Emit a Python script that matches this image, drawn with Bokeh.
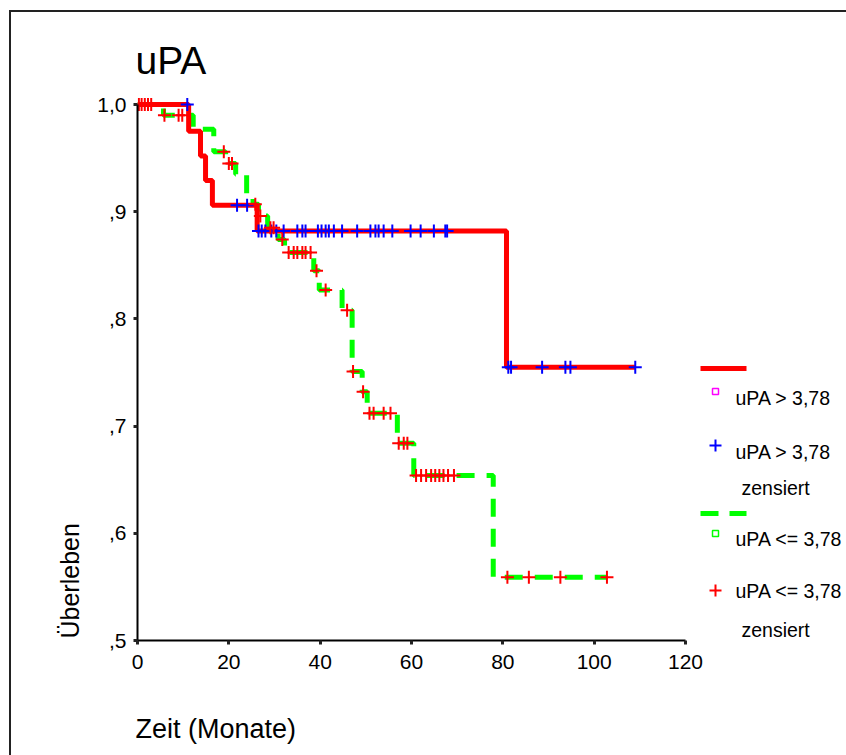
import numpy as np
from math import pi
from bokeh.plotting import figure
from bokeh.models import Label, BoxAnnotation, FixedTicker, Range1d, Title
from bokeh.embed import file_html
from bokeh.resources import INLINE

# ---------------- data ----------------
title_text = "uPA"
x_label = "Zeit (Monate)"
y_label = "Überleben"
x_ticks = [0, 20, 40, 60, 80, 100, 120]
y_ticks = [0.5, 0.6, 0.7, 0.8, 0.9, 1.0]
y_tick_labels = [",5", ",6", ",7", ",8", ",9", "1,0"]

# group uPA > 3,78 : Kaplan-Meier steps (time, survival)
hi_t = [0, 11.2, 13.8, 14.9, 16.4, 26.2, 80.8, 109.0]
hi_s = [1.0, 0.975, 0.952, 0.929, 0.906, 0.882, 0.755, 0.755]
# censored times, uPA > 3,78
hi_cens = [10.9, 21.8, 24.0,
           26.5, 27.2, 28.0, 29.3, 30.4, 32.0, 35.0, 36.1, 36.8, 39.5, 40.3,
           41.2, 41.9, 43.0, 44.8, 48.1, 51.0, 52.1, 52.8, 53.9, 55.8, 59.8,
           62.0, 64.9, 67.4, 67.8,
           81.2, 81.8, 88.6, 93.7, 94.8, 109.0]

# group uPA <= 3,78 : Kaplan-Meier steps
lo_t = [0, 5.7, 12.2, 16.7, 19.3, 21.5, 23.9, 25.3, 26.5, 28.5, 30.8, 32.2,
        38.6, 39.8, 44.8, 47.0, 49.2, 50.3, 56.9, 60.5, 77.9, 102.8]
lo_s = [1.0, 0.990, 0.977, 0.956, 0.945, 0.935, 0.917, 0.907, 0.896, 0.885,
        0.874, 0.862, 0.845, 0.827, 0.808, 0.751, 0.732, 0.712, 0.684, 0.654,
        0.559, 0.559]
# censored times, uPA <= 3,78
lo_cens = [0.3, 0.9, 1.6, 2.3, 3.0, 5.9, 9.0, 9.8, 18.9, 20.0, 20.7, 25.8,
           26.9, 29.1, 29.8, 31.7, 33.1, 34.2, 35.0, 36.1, 36.8, 37.9, 39.2,
           41.2, 45.9, 47.2, 49.4, 50.8, 51.7, 53.9, 55.4, 57.2, 58.3, 59.1,
           61.0, 62.1, 63.2, 64.3, 65.2, 66.1, 67.0, 68.0, 69.3,
           81.0, 85.7, 92.6, 102.8]

legend_labels = ["uPA > 3,78", "uPA > 3,78", "zensiert",
                 "uPA <= 3,78", "uPA <= 3,78", "zensiert"]


def surv_at(times, st, ss):
    st = np.asarray(st)
    ss = np.asarray(ss)
    idx = np.searchsorted(st, np.asarray(times), side="right") - 1
    return ss[idx]


hi_cens_s = surv_at(hi_cens, hi_t, hi_s)
lo_cens_s = surv_at(lo_cens, lo_t, lo_s)

# ---------------- layout ----------------
W, H = 846, 755
FL = 137            # y axis position (px) = frame left
AX_R = 685          # x = 120 (px)
AX_TOP, FB = 104, 640   # y = 1.0 and y = 0.5 (px); FB = frame bottom
FT = 20             # frame top (px); frame extends to right edge of canvas
XPU = (AX_R - FL) / 120.0
YPU = (FB - AX_TOP) / 0.5
x_end = (W - FL) / XPU
y_end = 0.5 + (FB - FT) / YPU


def dx(px):
    return (px - FL) / XPU


def dy(py):
    return 0.5 + (FB - py) / YPU


FONT = "Liberation Sans"

p = figure(width=W, height=H, x_range=Range1d(0, x_end), y_range=Range1d(0.5, y_end),
           output_backend="svg", toolbar_location=None,
           min_border_left=FL, min_border_right=0,
           min_border_top=FT, min_border_bottom=H - FB)
p.title.visible = False
p.outline_line_color = None
p.grid.visible = False
p.background_fill_color = None
p.border_fill_color = None
# outer frame of the chart (left and top edges), as in the reference
p.styles = {"box-shadow": "inset 9px 10px 0 0 #ffffff, inset 11px 12px 0 0 #222222",
            "background-color": "#ffffff"}

for ax in (p.xaxis[0], p.yaxis[0]):
    ax.axis_line_width = 2
    ax.axis_line_color = "black"
    ax.major_tick_line_width = 3
    ax.major_tick_line_color = "#222222"
    ax.major_tick_out = 4
    ax.major_tick_in = 0
    ax.minor_tick_line_color = None
    ax.major_label_text_font = FONT
    ax.major_label_text_font_size = "21px"
    ax.major_label_text_color = "black"
    ax.major_label_standoff = 7
p.xaxis.ticker = FixedTicker(ticks=x_ticks)
p.yaxis.ticker = FixedTicker(ticks=y_ticks)
p.xaxis.bounds = (0, 120)
p.yaxis.bounds = (0.5, 1.0)
p.xaxis.major_label_standoff = 10
p.yaxis.major_label_overrides = {v: s for v, s in zip(y_ticks, y_tick_labels)}

# axis titles (in side panels, aligned like the reference)
p.add_layout(Title(text=y_label, align="left", offset=2, standoff=22,
                   text_font=FONT, text_font_size="25px", text_font_style="normal",
                   text_color="black"), "left")
# blank spacer between the x axis and its title
p.add_layout(Title(text=" ", standoff=27, text_font=FONT, text_font_size="10px",
                   text_font_style="normal"), "below")
p.add_layout(Title(text=x_label, align="left", offset=-2, standoff=0,
                   text_font=FONT, text_font_size="27px", text_font_style="normal",
                   text_color="black"), "below")

# curves
p.step(lo_t, lo_s, mode="after", line_color="#00FF00", line_width=5, line_dash="18 12")
p.step(hi_t, hi_s, mode="after", line_color="#FF0000", line_width=5)
p.scatter(hi_cens, hi_cens_s, marker="cross", size=13, line_color="#0000FF", line_width=2)
p.scatter(lo_cens, lo_cens_s, marker="cross", size=13, line_color="#FF0000", line_width=2)


def lab(text, px, py, size, **kw):
    p.add_layout(Label(x=dx(px), y=dy(py), text=text, text_font=FONT,
                       text_font_size=size, text_color="black", **kw))


lab(title_text, 135, 60, "39px", text_baseline="alphabetic")

# legend
LX = 735
LS = "19.5px"
lab(legend_labels[0], LX, 397, LS, text_baseline="middle")
lab(legend_labels[1], LX, 451, LS, text_baseline="middle")
lab(legend_labels[2], LX + 6, 487, LS, text_baseline="middle")
lab(legend_labels[3], LX, 538, LS, text_baseline="middle")
lab(legend_labels[4], LX, 590, LS, text_baseline="middle")
lab(legend_labels[5], LX + 6, 629, LS, text_baseline="middle")


def box(l, r, t, b, fill=None, line=None, lw=1.5):
    p.add_layout(BoxAnnotation(left=dx(l), right=dx(r), top=dy(t), bottom=dy(b),
                               fill_color=fill if fill else "white",
                               fill_alpha=1 if fill else 0,
                               line_color=line if line else "white", line_width=lw,
                               line_alpha=1 if line else 0))


box(700, 746, 365.5, 370.5, fill="#FF0000")            # red solid sample
box(712, 718, 388, 394, line="#FF00FF")                 # magenta square
box(709, 721, 444, 446, fill="#0000FF")                 # blue cross
box(714, 716, 439, 451, fill="#0000FF")
box(700, 718, 510.5, 515.5, fill="#00FF00")            # green dashed sample
box(729, 746, 510.5, 515.5, fill="#00FF00")
box(712, 718, 530, 536, line="#00FF00")                 # green square
box(709, 721, 589, 591, fill="#FF0000")                 # red cross
box(714, 716, 584, 596, fill="#FF0000")

open("out.html", "w").write(file_html(p, INLINE))
